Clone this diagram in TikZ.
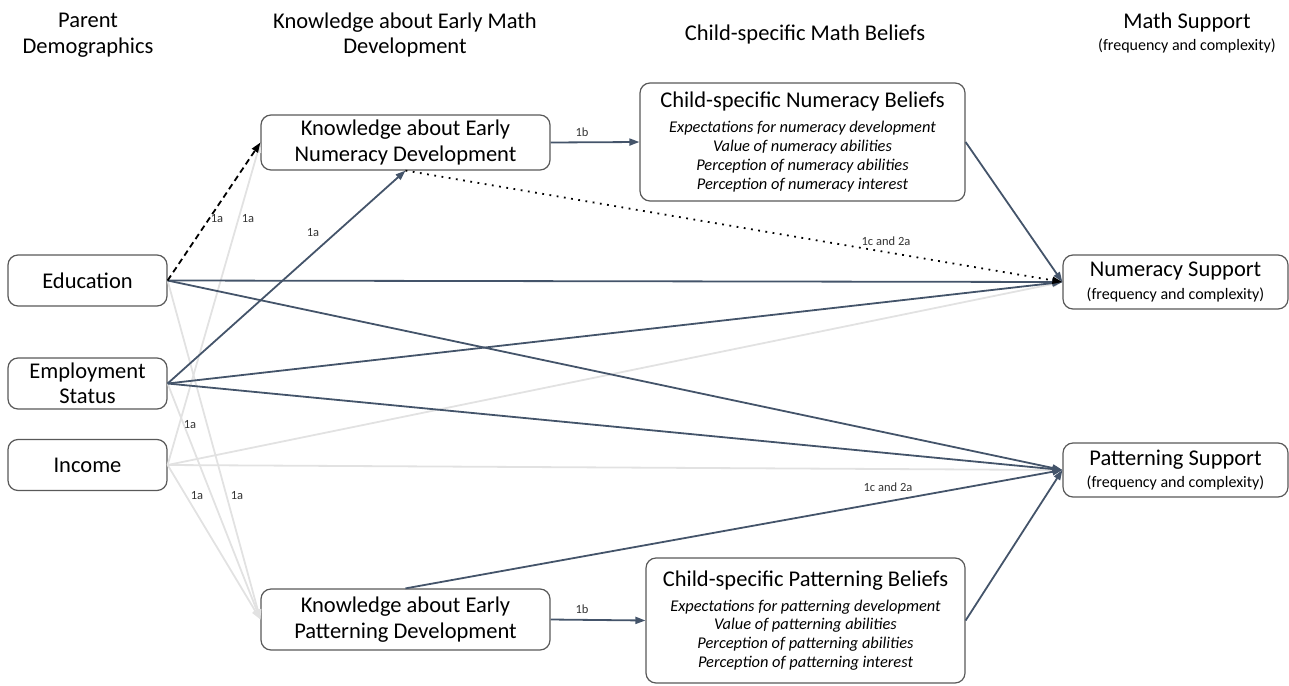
\documentclass[tikz,border=0pt]{standalone}
\usepackage{fontspec}
\setmainfont{Carlito}
\usetikzlibrary{arrows.meta}
\definecolor{slate}{HTML}{44546A}
\definecolor{lightg}{HTML}{E2E2E2}
\definecolor{boxline}{HTML}{595959}
\begin{document}
\begin{tikzpicture}[x=1pt,y=-1pt,
 box/.style={draw=boxline, line width=1.2pt, rounded corners=10pt, fill=white, align=center, inner sep=0pt, font=\fontsize{22.5}{25.5}\selectfont},
 belief/.style={box, font=\fontsize{16.4}{18.8}\selectfont\itshape},
 dk/.style={draw=slate, line width=1.8pt, -{Triangle[length=10pt,width=7pt]}},
 lg/.style={draw=lightg, line width=1.8pt, -{Triangle[length=10pt,width=7pt]}},
 dsh/.style={draw=black, line width=1.8pt, dash pattern=on 6pt off 4pt, -{Triangle[length=10pt,width=7pt]}},
 dtt/.style={draw=black, line width=1.8pt, dash pattern=on 1.8pt off 5.5pt, -{Triangle[length=10pt,width=7pt]}},
 lab/.style={font=\fontsize{12.5}{14}\selectfont, text=black!80, inner sep=1pt},
 hdr/.style={align=center, font=\fontsize{22.5}{25.5}\selectfont}
]
\useasboundingbox (0,0) rectangle (1289,685);

% headers
\node[hdr] (h1) at (88,35) {Parent\\Demographics};
\node[hdr] (h2) at (405,35) {Knowledge about Early Math\\Development};
\node[hdr] (h3) at (805,35) {Child-specific Math Beliefs};
\node[hdr] (h4) at (1187,33) {Math Support\\[-3pt]{\fontsize{16}{18}\selectfont (frequency and complexity)}};

% boxes
\node[box, minimum width=159pt, minimum height=51pt] (edu) at (87.5,280.5) {Education};
\node[box, minimum width=159pt, minimum height=51pt] (emp) at (87.5,383.5) {Employment\\Status};
\node[box, minimum width=159pt, minimum height=51pt] (inc) at (87.5,465) {Income};
\node[box, minimum width=289pt, minimum height=55pt] (kn) at (405.5,142.5) {Knowledge about Early\\Numeracy Development};
\node[box, minimum width=289pt, minimum height=61pt] (kp) at (405.5,619.5) {Knowledge about Early\\Patterning Development};
\node[belief, minimum width=325pt, minimum height=118pt] (cnb) at (802.5,142) {{\upshape\fontsize{22.5}{26}\selectfont Child-specific Numeracy Beliefs}\\[6pt]
 Expectations for numeracy development\\ Value of numeracy abilities\\ Perception of numeracy abilities\\ Perception of numeracy interest};
\node[belief, minimum width=319pt, minimum height=125pt] (cpb) at (805.5,620.5) {{\upshape\fontsize{22.5}{26}\selectfont Child-specific Patterning Beliefs}\\[6pt]
 Expectations for patterning development\\ Value of patterning abilities\\ Perception of patterning abilities\\ Perception of patterning interest};
\node[box, minimum width=225pt, minimum height=54pt] (ns) at (1175.5,282) {{\fontsize{22.5}{25}\selectfont Numeracy Support}\\[-3pt]{\fontsize{16}{18}\selectfont (frequency and complexity)}};
\node[box, minimum width=225pt, minimum height=54pt] (ps) at (1175.5,470) {{\fontsize{22.5}{25}\selectfont Patterning Support}\\[-3pt]{\fontsize{16}{18}\selectfont (frequency and complexity)}};

% light gray paths
\draw[lg] (inc.east) -- (kn.west);
\draw[lg] (inc.east) -- (ns.west);
\draw[lg] (inc.east) -- (ps.west);
\draw[lg] (edu.east) -- (kp.west);
\draw[lg] (emp.east) -- (kp.west);
\draw[lg] (inc.east) -- (kp.west);

% dark paths
\draw[dk] (edu.east) -- (ns.west);
\draw[dk] (edu.east) -- (ps.west);
\draw[dk] (emp.east) -- (ns.west);
\draw[dk] (emp.east) -- (ps.west);
\draw[dk] (emp.east) -- (kn.south);
\draw[dk] (kn.east) -- (cnb.west);
\draw[dk] (kp.east) -- (cpb.west);
\draw[dk] (cnb.east) -- (ns.west);
\draw[dk] (cpb.east) -- (ps.west);
\draw[dk] (kp.north) -- (ps.west);
\draw[dsh] (edu.east) -- (kn.west);
\draw[dtt] (kn.south) -- (ns.west);

% labels
\node[lab] (l1) at (217,219) {1a};
\node[lab] (l2) at (248,219) {1a};
\node[lab] (l3) at (313,233) {1a};
\node[lab] (l4) at (190,425) {1a};
\node[lab] (l5) at (197,496) {1a};
\node[lab] (l6) at (237,496) {1a};
\node[lab] (l7) at (582,132) {1b};
\node[lab] (l8) at (582,609) {1b};
\node[lab] (l9) at (886,241) {1c and 2a};
\node[lab] (l10) at (888,487) {1c and 2a};
\end{tikzpicture}
\end{document}
